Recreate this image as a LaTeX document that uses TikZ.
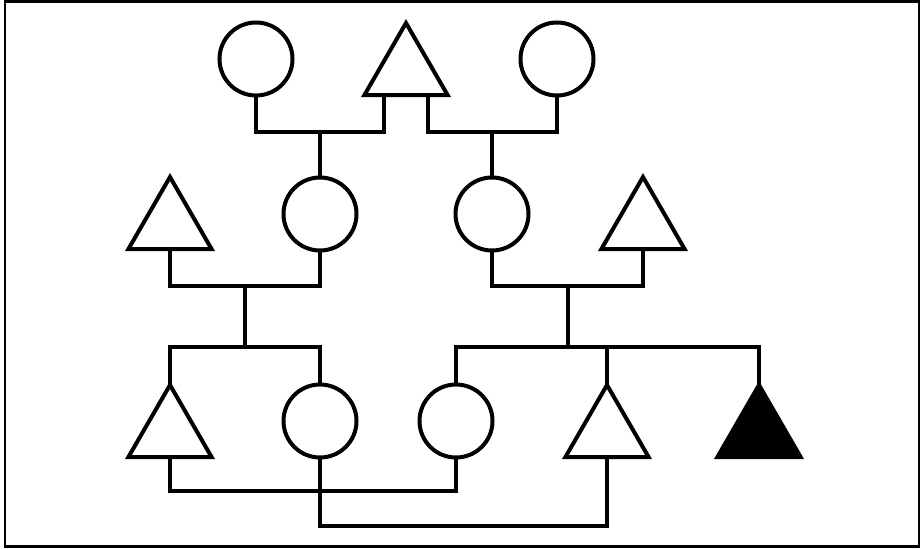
\documentclass[tikz,border=0pt]{standalone}
\usetikzlibrary{shapes.geometric}
\begin{document}
\begin{tikzpicture}[x=1pt,y=-1pt,
  fem/.style={circle,draw,line width=4pt,minimum size=73pt,inner sep=0pt,outer sep=0pt},
  mal/.style={regular polygon,regular polygon sides=3,draw,line width=4pt,minimum size=96pt,inner sep=0pt,outer sep=0pt},
  aff/.style={mal,fill=black},
  rel/.style={line width=4pt}]
\useasboundingbox (0,0) rectangle (924,549);
\draw[line width=2.5pt] (5,1.5) rectangle (919,546.5);
% top generation
\node[fem] (c1) at (256,59) {};
\node[mal] (t1) at (406,71) {};
\node[fem] (c3) at (557,59) {};
% middle generation
\node[mal] (t2) at (170,225) {};
\node[fem] (c2) at (320,214) {};
\node[fem] (c4) at (492,214) {};
\node[mal] (t3) at (643,225) {};
% bottom generation
\node[mal] (t4) at (170,433) {};
\node[fem] (c5) at (320,421) {};
\node[fem] (c6) at (456,421) {};
\node[mal] (t5) at (607,433) {};
\node[aff] (t6) at (759,433) {};
% junctions
\coordinate (m1) at (320,132);
\coordinate (m2) at (492,132);
\coordinate (m3) at (245,286);
\coordinate (m4) at (568,286);
\coordinate (s1) at (245,347);
\coordinate (s2) at (568,347);
% top couples
\draw[rel] (c1.south) |- (m1) -| ([xshift=-22pt]t1.south);
\draw[rel] ([xshift=22pt]t1.south) |- (m2) -| (c3.south);
\draw[rel] (m1) -- (c2.north);
\draw[rel] (m2) -- (c4.north);
% middle couples
\draw[rel] (t2.south) |- (m3) -| (c2.south);
\draw[rel] (c4.south) |- (m4) -| (t3.south);
\draw[rel] (m3) -- (s1);
\draw[rel] (m4) -- (s2);
% sibship lines
\draw[rel] (t4.north) |- (s1) -| (c5.north);
\draw[rel] (c6.north) |- (s2) -| (t6.north);
\draw[rel] (t5.north) -- (t5.north |- s2);
% bottom couples
\draw[rel] (t4.south) -- ++(0,34) -| (c6.south);
\draw[rel] (c5.south) -- ++(0,68.5) -| (t5.south);
\end{tikzpicture}
\end{document}
